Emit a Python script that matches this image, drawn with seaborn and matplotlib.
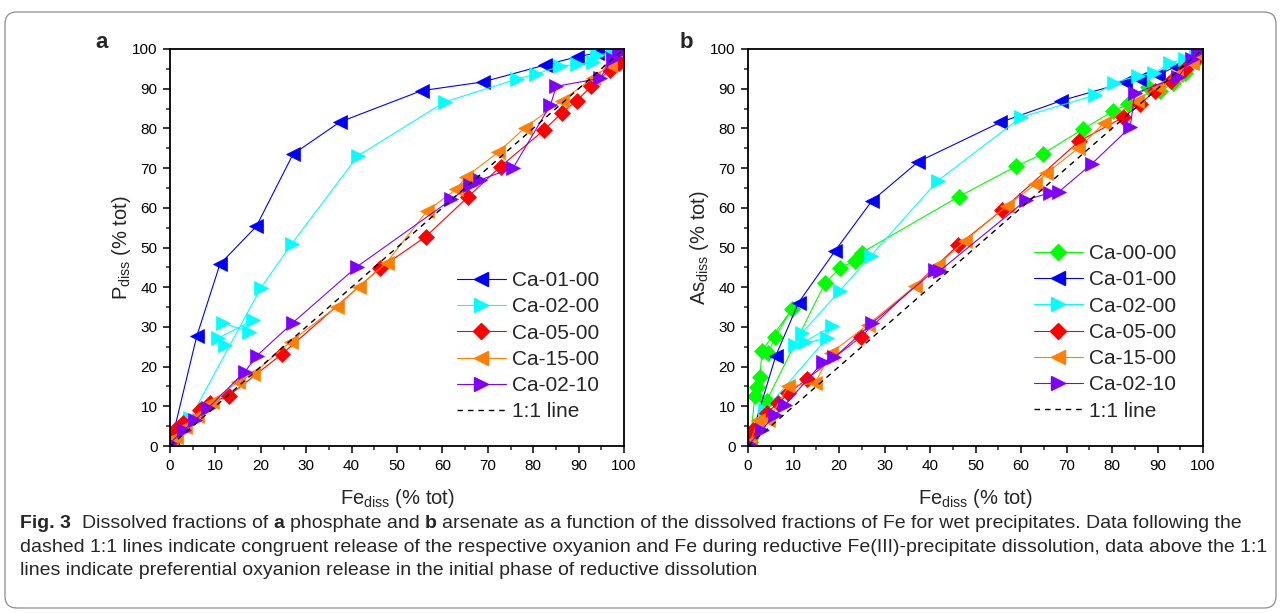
import matplotlib
matplotlib.use("Agg")
import matplotlib.pyplot as plt
from matplotlib.lines import Line2D
from matplotlib.patches import FancyBboxPatch
from matplotlib.ticker import MultipleLocator
from matplotlib import font_manager
import pandas as pd
import seaborn as sns

# ---- data (Fe_diss, oxyanion_diss in % tot) ----
# panel a: phosphate
a_0100_x = [0.5, 5.9, 11.0, 19.0, 27.1, 37.4, 55.4, 68.9, 82.7, 89.6, 94.0, 97.5, 99.5]
a_0100_y = [2.0, 27.7, 45.8, 55.3, 73.5, 81.6, 89.5, 91.7, 96.0, 98.0, 99.0, 99.5, 100.0]

a_0200_x = [0.5, 4.5, 20.0, 26.8, 41.4, 60.6, 76.4, 80.6, 85.9, 89.7, 93.2, 94.0, 97.5, 99.5,
            12.1, 10.5, 18.3, 11.7, 17.4]
a_0200_y = [2.0, 7.0, 39.8, 50.9, 73.1, 86.7, 92.4, 93.7, 95.6, 96.2, 96.6, 98.5, 99.0, 99.8,
            25.4, 27.1, 31.7, 30.9, 28.8]
a_0200_seg = [0] * 14 + [1, 1, 1, 2, 2]

a_0500_x = [0.3, 1.1, 2.9, 6.6, 8.8, 13.0, 24.7, 46.3, 56.3, 65.7, 72.8, 82.4, 86.3, 89.6,
            92.8, 96.9, 99.0, 100.0]
a_0500_y = [1.5, 4.0, 5.8, 9.0, 10.8, 12.7, 23.2, 44.8, 52.7, 62.8, 70.4, 79.6, 83.9, 87.0,
            90.6, 94.7, 96.5, 98.0]

a_1500_x = [0.3, 1.3, 3.3, 6.0, 9.2, 15.0, 18.2, 26.6, 36.7, 41.6, 47.7, 56.7, 63.1, 65.2,
            72.3, 78.2, 86.3, 93.2, 97.0, 99.5]
a_1500_y = [1.0, 2.3, 4.8, 7.5, 11.2, 16.2, 18.1, 26.3, 35.1, 40.1, 46.2, 59.3, 64.7, 67.8,
            74.0, 80.2, 87.0, 92.7, 96.0, 99.0]

a_0210_x = [0.0, 3.0, 5.5, 8.4, 16.5, 19.1, 27.1, 41.1, 62.0, 66.0, 68.3, 75.6, 83.8, 85.1,
            94.7, 97.5, 99.0, 100.0]
a_0210_y = [0.7, 4.0, 6.5, 9.6, 18.7, 22.7, 31.1, 45.1, 62.1, 65.7, 67.0, 70.1, 85.9, 90.6,
            92.6, 97.5, 99.0, 100.0]

# panel b: arsenate
b_0000_x = [0.5, 1.5, 1.9, 2.6, 3.1, 9.6, 5.9, 4.5,
            0.5, 4.1, 16.9, 20.2, 23.5, 25.0, 46.3, 59.0, 64.8, 73.6, 80.3, 83.5, 87.9,
            90.5, 93.4, 96.0, 98.5, 100.0]
b_0000_y = [1.0, 12.6, 14.9, 17.5, 24.0, 34.4, 27.4, 23.5,
            1.0, 11.4, 41.0, 44.8, 46.7, 48.7, 62.8, 70.5, 73.6, 79.8, 84.4, 86.1, 90.5,
            89.3, 91.4, 94.0, 97.0, 98.5]
b_0000_seg = [0] * 8 + [1] * 18

b_0100_x = [0.5, 6.1, 11.1, 19.1, 27.2, 37.4, 55.4, 68.9, 82.9, 86.0, 90.0, 94.0, 97.0, 99.0, 100.0]
b_0100_y = [1.5, 22.7, 36.1, 49.1, 61.7, 71.6, 81.5, 87.0, 91.6, 92.5, 93.5, 95.5, 97.5, 99.0, 100.0]

b_0200_x = [0.5, 3.7, 17.3, 10.3, 12.5, 18.5,
            11.8, 20.2, 27.0, 41.7, 60.0, 76.3, 80.4, 85.7, 89.2, 92.7, 96.0, 98.5, 100.0]
b_0200_y = [1.5, 9.0, 27.1, 25.4, 26.3, 30.2,
            28.4, 39.1, 47.9, 66.8, 82.8, 88.4, 91.5, 93.2, 93.9, 96.4, 97.5, 99.0, 100.0]
b_0200_seg = [0] * 4 + [1] * 2 + [2] * 13

b_0500_x = [0.5, 1.2, 4.1, 6.7, 8.9, 12.9, 24.8, 46.2, 55.8, 72.8, 82.5, 86.2, 89.5, 93.0,
            96.0, 98.5, 100.0]
b_0500_y = [2.0, 4.0, 8.4, 10.8, 13.3, 16.8, 27.5, 50.6, 59.4, 76.8, 82.8, 86.1, 89.5, 92.0,
            95.0, 97.5, 99.0]

b_1500_x = [0.5, 2.2, 4.5, 8.9, 14.7, 18.2, 26.4, 36.7, 41.8, 47.7, 56.9, 63.1, 65.6, 72.6,
            78.2, 85.5, 90.0, 94.0, 97.5, 100.0]
b_1500_y = [1.0, 6.5, 6.5, 15.1, 15.8, 23.4, 30.6, 40.3, 45.6, 51.7, 60.5, 65.9, 68.7, 75.0,
            81.3, 87.0, 90.5, 93.5, 96.5, 98.0]

b_0210_x = [0.3, 3.0, 5.9, 8.1, 16.5, 19.0, 27.2, 41.1, 42.2, 61.2, 66.4, 68.4, 75.5, 84.0,
            85.0, 94.6, 97.5, 99.0, 100.0]
b_0210_y = [0.5, 4.0, 7.8, 10.3, 21.2, 22.3, 30.9, 44.3, 44.2, 62.0, 63.8, 64.1, 71.0, 80.3,
            88.8, 93.0, 97.5, 99.5, 100.0]

one_to_one = [0, 100]

caption_lines = [
    [("Fig. 3", True), ("  Dissolved fractions of ", False), ("a", True),
     (" phosphate and ", False), ("b", True),
     (" arsenate as a function of the dissolved fractions of Fe for wet precipitates. "
      "Data following the", False)],
    [("dashed 1:1 lines indicate congruent release of the respective oxyanion and Fe "
      "during reductive Fe(III)-precipitate dissolution, data above the 1:1", False)],
    [("lines indicate preferential oxyanion release in the initial phase of reductive "
      "dissolution", False)],
]

# ---- styling ----
sns.set_style("ticks")
plt.rcParams["font.family"] = ["Liberation Sans", "DejaVu Sans"]
plt.rcParams["mathtext.fontset"] = "custom"
plt.rcParams["mathtext.rm"] = "Liberation Sans"
plt.rcParams["mathtext.it"] = "Liberation Sans"


def has_font(name):
    try:
        font_manager.findfont(name, fallback_to_default=False)
        return True
    except ValueError:
        return False


cap_family = "Liberation Sans Narrow" if has_font("Liberation Sans Narrow") else "Liberation Sans"

W, H = 1282, 613
fig = plt.figure(figsize=(W / 100, H / 100), dpi=100)
fig.patch.set_facecolor("white")

# rounded frame round the whole figure
frame = FancyBboxPatch((5 / 100, 5 / 100), (1276 - 5) / 100, (607 - 11) / 100,
                       boxstyle="round,pad=0,rounding_size=0.12",
                       transform=fig.dpi_scale_trans, fc="none", ec="#8c8c8c", lw=0.9)
fig.add_artist(frame)


def draw(ax, xs, ys, color, marker, ms, seg=None):
    df = pd.DataFrame({"x": xs, "y": ys, "seg": seg if seg else [0] * len(xs)})
    sns.lineplot(data=df, x="x", y="y", units="seg", estimator=None, sort=False,
                 color=color, marker=marker, markersize=ms, markeredgecolor=color,
                 markeredgewidth=0.5, linewidth=0.8, ax=ax, legend=False)


def style_axes(ax):
    ax.set_xlim(0, 100)
    ax.set_ylim(0, 100)
    ax.xaxis.set_major_locator(MultipleLocator(10))
    ax.yaxis.set_major_locator(MultipleLocator(10))
    ax.xaxis.set_minor_locator(MultipleLocator(5))
    ax.yaxis.set_minor_locator(MultipleLocator(5))
    ax.tick_params(which="major", direction="out", length=5, width=1.1, labelsize=11,
                   top=False, right=False, pad=4, colors="black")
    ax.tick_params(which="minor", direction="out", length=3, width=1.1, top=False, right=False)
    for s in ax.spines.values():
        s.set_linewidth(1.3)
        s.set_color("black")
    ax.set_xlabel(r"Fe$_{\mathregular{diss}}$ (% tot)", fontsize=14.5)
    ax.xaxis.set_label_coords(0.5, -0.103)


series_style = {
    "Ca-00-00": ("#00ff00", "D", 8),
    "Ca-01-00": ("#0000ff", "<", 9.5),
    "Ca-02-00": ("#00ffff", ">", 9.5),
    "Ca-05-00": ("#ff0000", "D", 8),
    "Ca-15-00": ("#ff8000", "<", 9.5),
    "Ca-02-10": ("#8000ff", ">", 9.5),
}


def legend_handles(names):
    hs = []
    for n in names:
        c, m, ms = series_style[n]
        hs.append(Line2D([], [], color=c, marker=m, markersize=ms, markeredgecolor=c,
                         lw=0.8, label=n))
    hs.append(Line2D([], [], color="black", lw=1.0, ls=(0, (4, 3.5)), label="1:1 line"))
    return hs


leg_kw = dict(loc="upper left", bbox_transform=fig.transFigure, frameon=False, borderpad=0,
              borderaxespad=0, handlelength=2.35, handletextpad=0.3, labelspacing=0.35,
              fontsize=15)

# ---- panel a ----
ax_a = fig.add_axes([170 / W, 1 - 446 / H, 454 / W, 397 / H])
draw(ax_a, a_0100_x, a_0100_y, *series_style["Ca-01-00"])
draw(ax_a, a_0200_x, a_0200_y, *series_style["Ca-02-00"], seg=a_0200_seg)
draw(ax_a, a_0500_x, a_0500_y, *series_style["Ca-05-00"])
draw(ax_a, a_1500_x, a_1500_y, *series_style["Ca-15-00"])
draw(ax_a, a_0210_x, a_0210_y, *series_style["Ca-02-10"])
sns.lineplot(x=one_to_one, y=one_to_one, color="black", lw=1.0, ax=ax_a)
ax_a.lines[-1].set_linestyle((0, (4, 3.5)))
style_axes(ax_a)
ax_a.set_ylabel(r"P$_{\mathregular{diss}}$ (% tot)", fontsize=14.5)
ax_a.yaxis.set_label_coords(-0.082, 0.5)
ax_a.legend(handles=legend_handles(["Ca-01-00", "Ca-02-00", "Ca-05-00", "Ca-15-00", "Ca-02-10"]),
            bbox_to_anchor=(457 / W, 1 - 271 / H), **leg_kw)
fig.text(102 / W, 1 - 43 / H, "a", fontsize=16, fontweight="bold", ha="center", va="center")

# ---- panel b ----
ax_b = fig.add_axes([748 / W, 1 - 446 / H, 455 / W, 397 / H])
draw(ax_b, b_0000_x, b_0000_y, *series_style["Ca-00-00"], seg=b_0000_seg)
draw(ax_b, b_0100_x, b_0100_y, *series_style["Ca-01-00"])
draw(ax_b, b_0200_x, b_0200_y, *series_style["Ca-02-00"], seg=b_0200_seg)
draw(ax_b, b_0500_x, b_0500_y, *series_style["Ca-05-00"])
draw(ax_b, b_1500_x, b_1500_y, *series_style["Ca-15-00"])
draw(ax_b, b_0210_x, b_0210_y, *series_style["Ca-02-10"])
sns.lineplot(x=one_to_one, y=one_to_one, color="black", lw=1.0, ax=ax_b)
ax_b.lines[-1].set_linestyle((0, (4, 3.5)))
style_axes(ax_b)
ax_b.set_ylabel(r"As$_{\mathregular{diss}}$ (% tot)", fontsize=14.5)
ax_b.yaxis.set_label_coords(-0.082, 0.5)
ax_b.legend(handles=legend_handles(["Ca-00-00", "Ca-01-00", "Ca-02-00", "Ca-05-00",
                                    "Ca-15-00", "Ca-02-10"]),
            bbox_to_anchor=(1034 / W, 1 - 244 / H), **leg_kw)
fig.text(686 / W, 1 - 43 / H, "b", fontsize=16, fontweight="bold", ha="center", va="center")

# ---- caption ----
renderer = fig.canvas.get_renderer()


def text_width(s, size, bold=False):
    t = fig.text(0, 0, s, fontsize=size, family=cap_family,
                 fontweight="bold" if bold else "normal")
    w = t.get_window_extent(renderer).width
    t.remove()
    return w


# fit the caption size so the second (full) line spans the frame width
base = 11
w2 = text_width(caption_lines[1][0][0], base)
cap_size = base * (1238 / w2)
space_w = text_width("a a", cap_size) - text_width("aa", cap_size)

baselines = [528, 551.5, 575]
for parts, yb in zip(caption_lines, baselines):
    x = 20.0
    for s, bold in parts:
        lead = len(s) - len(s.lstrip(" "))
        trail = len(s) - len(s.rstrip(" "))
        core = s.strip(" ")
        x += lead * space_w
        fig.text(x / W, 1 - yb / H, core, fontsize=cap_size, family=cap_family,
                 fontweight="bold" if bold else "normal", va="baseline", ha="left")
        x += text_width(core, cap_size, bold) + trail * space_w

fig.savefig("out.png", dpi=100)
